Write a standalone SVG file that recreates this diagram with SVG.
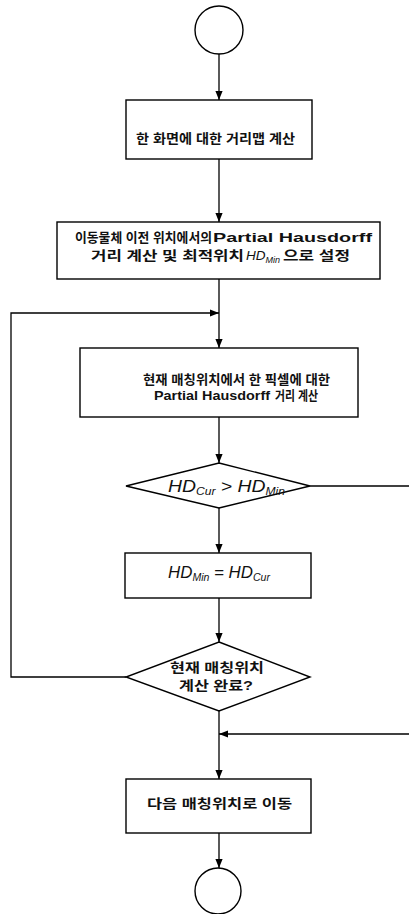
<svg xmlns="http://www.w3.org/2000/svg" width="409" height="914" viewBox="0 0 409 914">
<style>
.shape{fill:#fff;stroke:#000;stroke-width:1.4}
.conn{fill:none;stroke:#000;stroke-width:1.3}
.ko{font-family:"Liberation Sans","Noto Sans CJK KR",sans-serif;font-size:13px;font-weight:bold;fill:#111}
.la{font-family:"Liberation Sans",Arial,sans-serif;font-size:13.5px;font-weight:bold;fill:#111}
.hd{font-family:"Liberation Sans",Arial,sans-serif;font-size:16px;font-style:italic;fill:#111}
.hds{font-size:13.5px}
.sub{font-size:10px}
.sub9{font-size:9px}
</style>
<defs>
<marker id="arr" viewBox="0 0 10 8" refX="10" refY="4" markerWidth="9" markerHeight="7.5" markerUnits="userSpaceOnUse" orient="auto">
<path d="M0,0 L10,4 L0,8 Z" fill="#000"/>
</marker>
</defs>
<g id="connectors">
<line class="conn" x1="219" y1="54" x2="219" y2="100" marker-end="url(#arr)"/>
<line class="conn" x1="219" y1="159" x2="219" y2="222" marker-end="url(#arr)"/>
<line class="conn" x1="219" y1="279" x2="219" y2="348" marker-end="url(#arr)"/>
<polyline class="conn" points="126,677 11,677 11,313 219,313" marker-end="url(#arr)"/>
<line class="conn" x1="219" y1="417" x2="219" y2="463" marker-end="url(#arr)"/>
<line class="conn" x1="219" y1="508" x2="219" y2="553" marker-end="url(#arr)"/>
<line class="conn" x1="219" y1="598" x2="219" y2="642" marker-end="url(#arr)"/>
<line class="conn" x1="310" y1="486" x2="409" y2="486"/>
<line class="conn" x1="409" y1="734" x2="219" y2="734" marker-end="url(#arr)"/>
<line class="conn" x1="219" y1="711" x2="219" y2="779" marker-end="url(#arr)"/>
<line class="conn" x1="219" y1="833" x2="219" y2="868" marker-end="url(#arr)"/>
</g>
<g id="start">
<circle class="shape" cx="219" cy="30" r="24"/>
</g>
<g id="box1">
<rect class="shape" x="126" y="100" width="186" height="59"/>
<text class="ko" x="136" y="143" textLength="159" lengthAdjust="spacingAndGlyphs">한 화면에 대한 거리맵 계산</text>
</g>
<g id="box2">
<rect class="shape" x="57" y="222" width="323" height="57"/>
<text class="ko" x="75" y="242" textLength="137" lengthAdjust="spacingAndGlyphs">이동물체 이전 위치에서의</text>
<text class="la" x="213" y="242" textLength="159" lengthAdjust="spacingAndGlyphs">Partial Hausdorff</text>
<text class="ko" x="91" y="260" textLength="153" lengthAdjust="spacingAndGlyphs">거리 계산 및  최적위치</text>
<text class="hd hds" x="246" y="260">HD<tspan class="sub9" dy="3">Min</tspan></text>
<text class="ko" x="283" y="260" textLength="67" lengthAdjust="spacingAndGlyphs">으로 설정</text>
</g>
<g id="box3">
<rect class="shape" x="80" y="348" width="278" height="69"/>
<text class="ko" x="143" y="384" textLength="187" lengthAdjust="spacingAndGlyphs">현재 매칭위치에서 한 픽셀에 대한</text>
<text class="la" x="154" y="400" textLength="116" lengthAdjust="spacingAndGlyphs">Partial Hausdorff</text>
<text class="ko" x="275" y="400" textLength="43" lengthAdjust="spacingAndGlyphs">거리 계산</text>
</g>
<g id="decision1">
<polygon class="shape" points="219,463 310,486 219,508 126,486"/>
<text class="hd" x="168" y="492" textLength="117" lengthAdjust="spacingAndGlyphs">HD<tspan class="sub" dy="3">Cur</tspan><tspan dy="-3"> &gt; HD</tspan><tspan class="sub" dy="3">Min</tspan></text>
</g>
<g id="box4">
<rect class="shape" x="125" y="553" width="186" height="45"/>
<text class="hd" x="168" y="578" textLength="102" lengthAdjust="spacingAndGlyphs">HD<tspan class="sub" dy="3">Min</tspan><tspan dy="-3"> = HD</tspan><tspan class="sub" dy="3">Cur</tspan></text>
</g>
<g id="decision2">
<polygon class="shape" points="219,642 310,677 219,711 126,677"/>
<text class="ko" x="170" y="672" textLength="94" lengthAdjust="spacingAndGlyphs">현재 매칭위치</text>
<text class="ko" x="179" y="690" textLength="74" lengthAdjust="spacingAndGlyphs">계산 완료?</text>
</g>
<g id="box5">
<rect class="shape" x="126" y="779" width="185" height="54"/>
<text class="ko" x="147" y="808" textLength="145" lengthAdjust="spacingAndGlyphs">다음  매칭위치로 이동</text>
</g>
<g id="end">
<circle class="shape" cx="218" cy="891" r="23"/>
</g>
</svg>
